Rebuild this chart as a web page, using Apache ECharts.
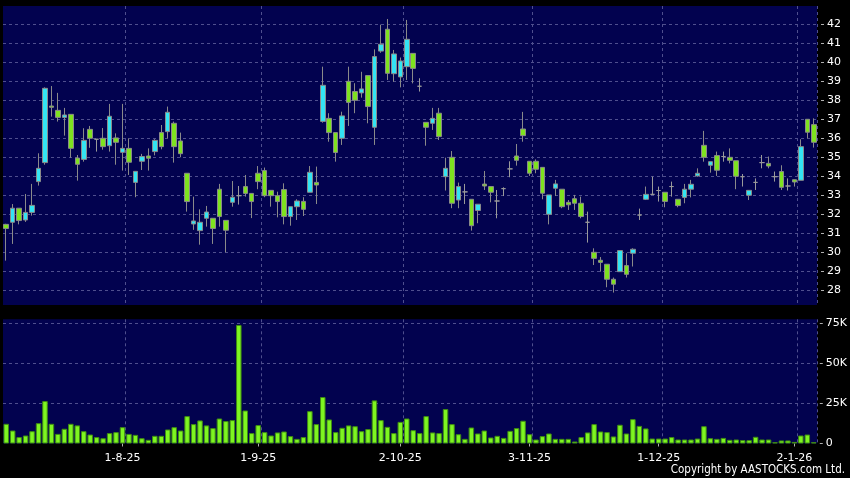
<!DOCTYPE html>
<html><head><meta charset="utf-8">
<script src="https://cdn.jsdelivr.net/npm/echarts@6/dist/echarts.min.js"></script>
<style>html,body{margin:0;padding:0;background:#000;}#c{width:850px;height:478px;}</style>
</head><body><div id="c"></div>
<script>
const dates = [
'8-7-25','9-7-25','10-7-25','11-7-25','14-7-25','15-7-25','16-7-25','17-7-25','18-7-25','21-7-25','22-7-25','23-7-25','24-7-25','25-7-25','28-7-25','29-7-25','30-7-25','31-7-25',
'1-8-25','4-8-25','5-8-25','6-8-25','7-8-25','8-8-25','11-8-25','12-8-25','13-8-25','14-8-25','15-8-25','18-8-25','19-8-25','20-8-25','21-8-25','22-8-25','25-8-25','26-8-25','27-8-25','28-8-25','29-8-25',
'1-9-25','2-9-25','3-9-25','4-9-25','5-9-25','8-9-25','9-9-25','10-9-25','11-9-25','12-9-25','15-9-25','16-9-25','17-9-25','18-9-25','19-9-25','22-9-25','23-9-25','24-9-25','25-9-25','26-9-25','29-9-25','30-9-25',
'2-10-25','3-10-25','6-10-25','8-10-25','9-10-25','10-10-25','13-10-25','14-10-25','15-10-25','16-10-25','17-10-25','20-10-25','21-10-25','22-10-25','23-10-25','24-10-25','27-10-25','28-10-25','30-10-25','31-10-25',
'3-11-25','4-11-25','5-11-25','6-11-25','7-11-25','10-11-25','11-11-25','12-11-25','13-11-25','14-11-25','17-11-25','18-11-25','19-11-25','20-11-25','21-11-25','24-11-25','25-11-25','26-11-25','27-11-25','28-11-25',
'1-12-25','2-12-25','3-12-25','4-12-25','5-12-25','8-12-25','9-12-25','10-12-25','11-12-25','12-12-25','15-12-25','16-12-25','17-12-25','18-12-25','19-12-25','22-12-25','23-12-25','24-12-25','29-12-25','30-12-25','31-12-25',
'2-1-26','5-1-26','6-1-26','7-1-26'
];
const xLabels = ['1-8-25','1-9-25','2-10-25','3-11-25','1-12-25','2-1-26'];

const opens = [
31.47,31.58,32.32,31.70,32.10,33.72,34.72,37.70,37.47,37.10,
37.26,34.96,34.89,36.47,35.95,36.00,35.61,36.02,35.26,35.47,
33.68,34.79,35.07,35.30,36.30,36.35,36.79,35.86,34.16,31.49,
31.14,31.79,31.79,33.32,31.68,32.63,32.98,33.46,33.10,34.16,
34.30,33.26,32.98,33.30,31.88,32.40,32.68,33.16,33.68,36.89,
37.05,36.30,36.00,39.00,38.46,38.39,39.30,36.58,40.59,41.74,
39.40,39.23,39.77,40.47,38.74,36.84,36.79,37.32,33.98,35.00,
32.75,33.18,32.79,32.20,33.59,33.46,32.70,33.35,34.39,35.07,
36.49,34.79,34.79,34.47,32.00,33.37,33.32,32.63,32.82,32.58,
31.58,30.00,29.58,29.37,28.58,28.98,29.30,29.95,31.96,32.79,
33.05,33.25,33.16,33.46,32.79,32.89,33.32,34.02,35.63,34.58,
35.09,35.04,35.00,34.82,33.98,33.00,33.68,34.72,34.68,33.98,
34.25,33.49,33.82,33.79,37.00,36.72
];
const closes = [
31.25,32.32,31.67,32.10,32.47,34.42,38.63,37.63,37.10,37.23,
35.47,34.63,35.89,36.00,35.95,35.56,37.16,35.79,35.47,34.74,
34.26,35.04,34.95,35.89,35.56,37.37,35.56,35.19,32.67,31.65,
31.58,32.12,31.25,31.88,31.16,32.90,32.98,33.10,32.67,33.72,
32.98,32.98,32.67,31.88,32.40,32.70,32.26,34.21,33.54,38.79,
36.30,35.25,37.18,37.89,38.00,38.60,37.67,40.30,40.95,39.42,
40.44,40.07,41.21,39.68,38.74,36.58,37.05,36.09,34.42,32.58,
33.46,33.18,31.40,32.53,33.49,33.16,32.70,33.35,34.39,34.84,
36.14,34.16,34.37,33.11,33.02,33.60,32.40,32.50,32.58,31.88,
31.58,29.68,29.47,28.58,28.32,30.09,28.84,30.16,31.96,33.05,
33.05,33.25,32.68,33.46,32.46,33.32,33.58,34.16,35.00,34.77,
34.32,35.04,34.84,34.00,33.98,33.26,33.68,34.72,34.54,33.98,
33.42,33.49,33.70,35.56,36.32,35.79
];
const lows = [
29.56,30.44,31.47,31.60,31.93,33.51,34.61,37.14,36.88,36.14,
34.98,33.77,34.77,35.50,35.30,35.40,35.30,34.61,34.30,34.07,
32.90,34.33,34.30,35.10,35.42,36.00,34.72,35.00,32.14,31.18,
30.40,31.35,30.44,31.35,30.00,32.40,32.51,32.93,31.80,33.32,
32.90,32.40,31.84,31.47,31.40,31.70,31.91,33.16,32.54,36.82,
35.82,34.77,35.65,36.65,37.32,38.14,36.79,35.65,40.50,39.07,
38.98,38.68,39.07,38.89,38.46,35.61,36.44,35.91,33.25,32.32,
32.32,32.54,31.14,31.53,33.28,32.63,31.79,32.96,33.95,34.56,
35.82,34.02,34.16,32.79,31.47,32.96,32.32,32.23,32.23,31.79,
30.51,29.33,28.98,28.16,27.88,28.98,28.67,29.25,31.70,32.75,
33.02,32.67,32.37,32.93,32.37,32.58,32.89,33.98,34.77,34.19,
34.02,34.77,34.68,33.32,33.46,32.75,33.28,34.42,34.42,33.72,
33.28,33.25,33.46,33.79,36.00,35.51
];
const highs = [
31.50,32.54,32.32,33.07,33.60,35.21,38.68,38.75,38.39,37.60,
37.26,35.12,36.53,36.65,35.95,36.54,37.81,36.26,37.81,36.00,
34.26,35.18,35.47,35.95,36.70,37.67,36.88,36.30,34.16,32.93,
32.26,32.44,31.79,33.60,31.68,33.75,33.49,34.07,33.10,34.54,
34.46,33.26,33.19,33.63,32.40,32.79,32.90,34.54,34.51,39.77,
37.32,36.30,37.40,39.77,38.90,39.50,39.30,40.68,41.98,42.28,
40.65,40.25,42.23,40.47,39.16,36.84,37.60,37.60,34.98,35.33,
33.67,33.60,32.79,32.53,34.28,33.46,33.28,33.42,34.79,35.70,
37.39,34.79,34.89,34.47,33.02,33.81,33.32,32.75,33.02,32.93,
32.14,30.21,29.75,29.37,28.67,30.09,29.95,30.21,32.30,33.46,
33.98,33.46,33.16,33.72,32.79,33.60,33.81,34.42,36.39,34.77,
35.30,35.30,35.47,34.82,34.12,33.26,33.89,35.12,35.04,34.25,
34.58,33.89,33.82,35.95,37.00,37.05
];
const volumes = [
12300,8100,4000,5000,7700,12700,26500,12300,6000,9200,
12300,11300,7700,5600,4000,3300,6500,7100,10200,6000,
5400,3300,2300,4800,4800,8750,10200,8100,17100,12100,
14400,11300,9600,15600,14000,14600,74000,20600,6500,11500,
7100,5000,6900,7500,4600,2900,4000,20200,12100,29000,
15000,7100,9800,11300,10800,7700,9000,26900,14600,10400,
6500,13500,15600,8300,6500,17100,6900,6500,21500,12100,
5800,2900,10000,6250,8100,3750,4800,3500,7900,9600,
14200,5800,2500,4600,6250,2900,2900,2900,1250,4000,
6900,12100,7500,7100,4400,11700,6250,15200,11000,9400,
3100,3100,3100,4000,2500,2500,2500,3100,10800,3300,
2900,3500,2300,2500,2100,2100,4200,2500,2500,800,
1900,1900,1000,5000,5600,800
];
const priceTickMin = 28, priceTickMax = 42, priceTickStep = 1;
const volTicks = [0, 25000, 50000, 75000];

const candles = dates.map((d, i) => [opens[i], closes[i], lows[i], highs[i]]);
const labeledIdx = new Set(xLabels.map(l => dates.indexOf(l)));

const NAVY = '#02024f', GRIDC = '#4f4f8e', UP = '#33e4f3', DOWN = '#7ee21f';
const FONT = 'DejaVu Sans';
const L = 3, W = 814;
const dashed = {color: GRIDC, type: [3, 3], width: 1};

const chart = echarts.init(document.getElementById('c'), null, {renderer: 'canvas'});
chart.setOption({
  backgroundColor: '#000',
  animation: false,
  grid: [
    {left: L, width: W, top: 6, height: 299, show: true, backgroundColor: NAVY, borderWidth: 0},
    {left: L, width: W, top: 24.3, height: 266},
    {left: L, width: W, top: 319.3, height: 124.2, show: true, backgroundColor: NAVY, borderWidth: 0},
    {left: L, width: W, top: 323.3, height: 120.2}
  ],
  xAxis: [
    {gridIndex: 0, type: 'category', data: dates, boundaryGap: true,
     axisLine: {show: false}, axisTick: {show: false}, axisLabel: {show: false},
     splitLine: {show: true, interval: (i) => labeledIdx.has(i - 1), lineStyle: dashed}},
    {gridIndex: 1, type: 'category', data: dates, show: false},
    {gridIndex: 2, type: 'category', data: dates, boundaryGap: true, offset: 3,
     axisLine: {show: false},
     axisTick: {show: true, alignWithLabel: true, interval: (i) => labeledIdx.has(i), length: 3, lineStyle: {color: '#b0b0b0'}},
     axisLabel: {interval: (i) => labeledIdx.has(i), color: '#ffffff', fontSize: 11, fontFamily: FONT, margin: 6},
     splitLine: {show: true, interval: (i) => labeledIdx.has(i - 1), lineStyle: dashed}},
    {gridIndex: 3, type: 'category', data: dates, show: false}
  ],
  yAxis: [
    {gridIndex: 0, type: 'value', min: 27.226, max: 42.963, show: false, splitLine: {show: false}},
    {gridIndex: 1, type: 'value', min: priceTickMin, max: priceTickMax, interval: priceTickStep, position: 'right', offset: 4,
     axisLine: {show: false}, axisTick: {show: true, length: 3, lineStyle: {color: '#b0b0b0'}},
     axisLabel: {color: '#ffffff', fontSize: 11, fontFamily: FONT, margin: 6},
     splitLine: {show: true, lineStyle: dashed}},
    {gridIndex: 2, type: 'value', min: 0, max: 77500, show: false, splitLine: {show: false}},
    {gridIndex: 3, type: 'value', min: volTicks[0], max: volTicks[volTicks.length - 1], interval: volTicks[1] - volTicks[0], position: 'right', offset: 4,
     axisLine: {show: false}, axisTick: {show: true, length: 3, lineStyle: {color: '#b0b0b0'}},
     axisLabel: {color: '#ffffff', fontSize: 11, fontFamily: FONT, margin: 6,
       formatter: (v) => v === 0 ? '0' : (v / 1000) + 'K'},
     splitLine: {show: true, showMinLine: false, lineStyle: dashed}}
  ],
  series: [
    {type: 'candlestick', xAxisIndex: 0, yAxisIndex: 0, data: candles, barWidth: 5,
     itemStyle: {color: UP, color0: DOWN, borderColor: '#8a8a8a', borderColor0: '#8a8a8a', borderColorDoji: '#9a9a9a', borderWidth: 1}},
    {type: 'bar', xAxisIndex: 2, yAxisIndex: 2, data: volumes, barWidth: 5.5,
     itemStyle: {color: '#7ef521', borderColor: '#3f8c12', borderWidth: 1}}
  ],
  graphic: [
    {type: 'text', right: 5, bottom: 2,
     style: {text: 'Copyright by AASTOCKS.com Ltd.', fill: '#ffffff', fontSize: 11.5, fontFamily: 'DejaVu Sans Condensed'}}
  ]
});
</script></body></html>
